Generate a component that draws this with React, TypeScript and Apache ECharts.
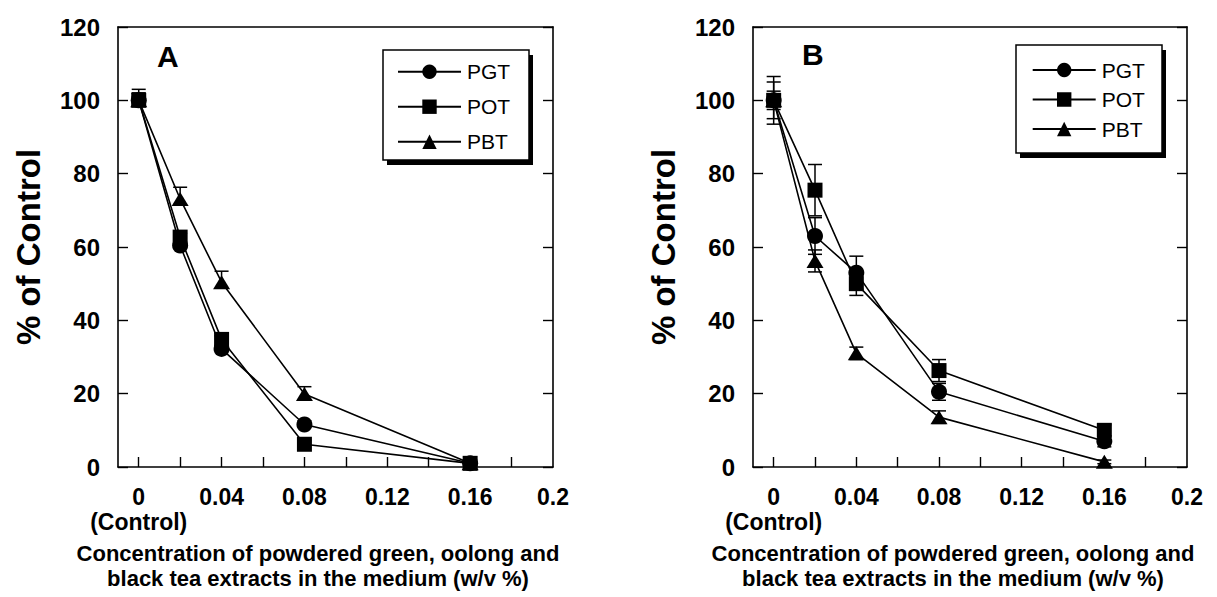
import React, { useEffect, useRef } from "react";
import * as echarts from "echarts";

const FONT = '"Liberation Sans", Arial, Helvetica, sans-serif';

const X_VALUES = [0, 0.02, 0.04, 0.08, 0.16];
const SERIES_NAMES = ["PGT", "POT", "PBT"];
const SYMBOLS = ["circle", "rect", "triangle"];
const SYMBOL_SIZES: any[] = [16, 15, [17, 14]];

const X_TICKS = [0, 0.02, 0.04, 0.06, 0.08, 0.1, 0.12, 0.14, 0.16, 0.18];
const X_LABELS = [0, 0.04, 0.08, 0.12, 0.16, 0.2];

// Panel A
const A_PGT = [100, 60.4, 32.2, 11.6, 1];
const A_POT = [100, 62.7, 34.8, 6.2, 1];
const A_PBT = [100, 73.1, 50.4, 19.9, 1];
const A_PGT_ERR = [2, 1, 1, 1, 0.3];
const A_POT_ERR = [3, 1, 1, 1, 0.3];
const A_PBT_ERR = [2, 3.2, 3, 2, 0.3];

// Panel B
const B_PGT = [100, 63, 53, 20.5, 7];
const B_POT = [100, 75.5, 50, 26.3, 10];
const B_PBT = [100, 56.2, 31, 13.6, 1.4];
const B_PGT_ERR = [6.5, 5, 4.5, 2.3, 1.5];
const B_POT_ERR = [5, 7, 3.2, 3, 1.5];
const B_PBT_ERR = [2.5, 3, 1.7, 1.7, 0.5];

const X_TITLE_1 = "Concentration of powdered green, oolong and";
const X_TITLE_2 = "black tea extracts in the medium (w/v %)";
const Y_TITLE = "% of Control";

const GRIDS = [
  { left: 118, top: 27, width: 435, height: 440 },
  { left: 753, top: 27, width: 434, height: 440 },
];

const PANELS = [
  { label: "A", values: [A_PGT, A_POT, A_PBT], errs: [A_PGT_ERR, A_POT_ERR, A_PBT_ERR], upperOnly: true,
    legend: { left: 383, top: 50, w: 146, h: 110, gap: 14, padTop: 11.2, padLeft: 14 }, labelX: 157, labelY: 56.5, titleX: 318 },
  { label: "B", values: [B_PGT, B_POT, B_PBT], errs: [B_PGT_ERR, B_POT_ERR, B_PBT_ERR], upperOnly: false,
    legend: { left: 1016, top: 45, w: 146, h: 108, gap: 8.5, padTop: 14.5, padLeft: 15.7 }, labelX: 802, labelY: 54.5, titleX: 953 },
];

function buildOption() {
  const xAxis: any[] = [];
  const yAxis: any[] = [];
  const series: any[] = [];
  const legend: any[] = [];
  const graphic: any[] = [];

  PANELS.forEach((p, gi) => {
    xAxis.push({
      type: "value", gridIndex: gi, min: -0.01, max: 0.2, position: "bottom",
      axisLine: { show: true, onZero: false, lineStyle: { color: "#000", width: 1.6 } },
      axisTick: { show: true, inside: true, length: 10, customValues: X_TICKS, lineStyle: { color: "#000", width: 1.4 } },
      axisLabel: {
        show: true, customValues: X_LABELS, margin: 17, color: "#000", fontFamily: FONT, fontWeight: "bold",
        fontSize: 23, lineHeight: 25,
        formatter: (v: number) => (Math.abs(v) < 1e-9 ? "0\n(Control)" : String(+v.toFixed(2))),
      },
      splitLine: { show: false },
    });
    xAxis.push({
      type: "value", gridIndex: gi, min: -0.01, max: 0.2, position: "top",
      axisLine: { show: true, onZero: false, lineStyle: { color: "#000", width: 1.6 } },
      axisTick: { show: false }, axisLabel: { show: false }, splitLine: { show: false },
    });
    yAxis.push({
      type: "value", gridIndex: gi, min: 0, max: 120, interval: 20, position: "left",
      name: Y_TITLE, nameLocation: "middle", nameGap: 73, nameRotate: 90,
      nameTextStyle: { fontFamily: FONT, fontWeight: "bold", fontSize: 33, color: "#000" },
      axisLine: { show: true, onZero: false, lineStyle: { color: "#000", width: 1.6 } },
      axisTick: { show: true, inside: true, length: 10, lineStyle: { color: "#000", width: 1.4 } },
      axisLabel: { show: true, margin: 18, color: "#000", fontFamily: FONT, fontWeight: "bold", fontSize: 24 },
      splitLine: { show: false },
    });
    yAxis.push({
      type: "value", gridIndex: gi, min: 0, max: 120, interval: 20, position: "right",
      axisLine: { show: true, onZero: false, lineStyle: { color: "#000", width: 1.6 } },
      axisTick: { show: true, inside: true, length: 10, lineStyle: { color: "#000", width: 1.4 } },
      axisLabel: { show: false }, splitLine: { show: false },
    });

    SERIES_NAMES.forEach((name, si) => {
      const vals = p.values[si];
      const errs = p.errs[si];
      series.push({
        type: "custom", name: name + "-err", xAxisIndex: gi * 2, yAxisIndex: gi * 2, z: 1,
        data: X_VALUES.map((x, i) => [x, p.upperOnly ? vals[i] : vals[i] - errs[i], vals[i] + errs[i]]),
        encode: { x: 0, y: [1, 2] },
        renderItem: (params: any, api: any) => {
          const x = api.value(0);
          const lo = api.coord([x, api.value(1)]);
          const hi = api.coord([x, api.value(2)]);
          const w = 7;
          const st = { stroke: "#000", lineWidth: 1.5 };
          const ch: any[] = [
            { type: "line", shape: { x1: hi[0], y1: hi[1], x2: lo[0], y2: lo[1] }, style: st },
            { type: "line", shape: { x1: hi[0] - w, y1: hi[1], x2: hi[0] + w, y2: hi[1] }, style: st },
          ];
          if (!p.upperOnly) ch.push({ type: "line", shape: { x1: lo[0] - w, y1: lo[1], x2: lo[0] + w, y2: lo[1] }, style: st });
          return { type: "group", children: ch };
        },
        silent: true,
      });
      series.push({
        type: "line", name, xAxisIndex: gi * 2, yAxisIndex: gi * 2, z: 3,
        data: X_VALUES.map((x, i) => [x, vals[i]]),
        symbol: SYMBOLS[si], symbolSize: SYMBOL_SIZES[si], showSymbol: true,
        lineStyle: { color: "#000", width: 1.6 },
        itemStyle: { color: "#000" },
        emphasis: { disabled: true },
      });
    });

    const L = p.legend;
    legend.push({
      data: SERIES_NAMES, orient: "vertical", left: L.left, top: L.top,
      padding: [L.padTop, 0, 0, L.padLeft], itemWidth: 63, itemHeight: 18, itemGap: L.gap,
      selectedMode: false, z: 20,
      textStyle: { fontFamily: FONT, fontSize: 21, color: "#000", padding: [0, 0, 0, 1] },
    });
    graphic.push({ type: "rect", z: 10, shape: { x: L.left + 4, y: L.top + 5, width: L.w, height: L.h }, style: { fill: "#000" } });
    graphic.push({ type: "rect", z: 11, shape: { x: L.left, y: L.top, width: L.w, height: L.h }, style: { fill: "#fff", stroke: "#000", lineWidth: 1.5 } });
    graphic.push({ type: "text", z: 12, style: { text: p.label, x: p.labelX, y: p.labelY, verticalAlign: "middle", align: "left", fill: "#000", font: `bold 30px ${FONT}` } });
    graphic.push({ type: "text", z: 12, style: { text: X_TITLE_1, x: p.titleX, y: 553, verticalAlign: "middle", align: "center", fill: "#000", font: `bold 22px ${FONT}` } });
    graphic.push({ type: "text", z: 12, style: { text: X_TITLE_2, x: p.titleX, y: 578, verticalAlign: "middle", align: "center", fill: "#000", font: `bold 22px ${FONT}` } });
  });

  return {
    animation: false,
    backgroundColor: "#fff",
    grid: GRIDS.map((g) => ({ ...g, containLabel: false })),
    xAxis, yAxis, series, legend, graphic,
  };
}

export default function App() {
  const ref = useRef<HTMLDivElement>(null);
  useEffect(() => {
    if (!ref.current) return;
    const chart = echarts.init(ref.current, null, { renderer: "svg" });
    chart.setOption(buildOption() as any);
    return () => chart.dispose();
  }, []);
  return <div ref={ref} style={{ position: "fixed", left: 0, top: 0, width: 1217, height: 597, background: "#fff" }} />;
}
